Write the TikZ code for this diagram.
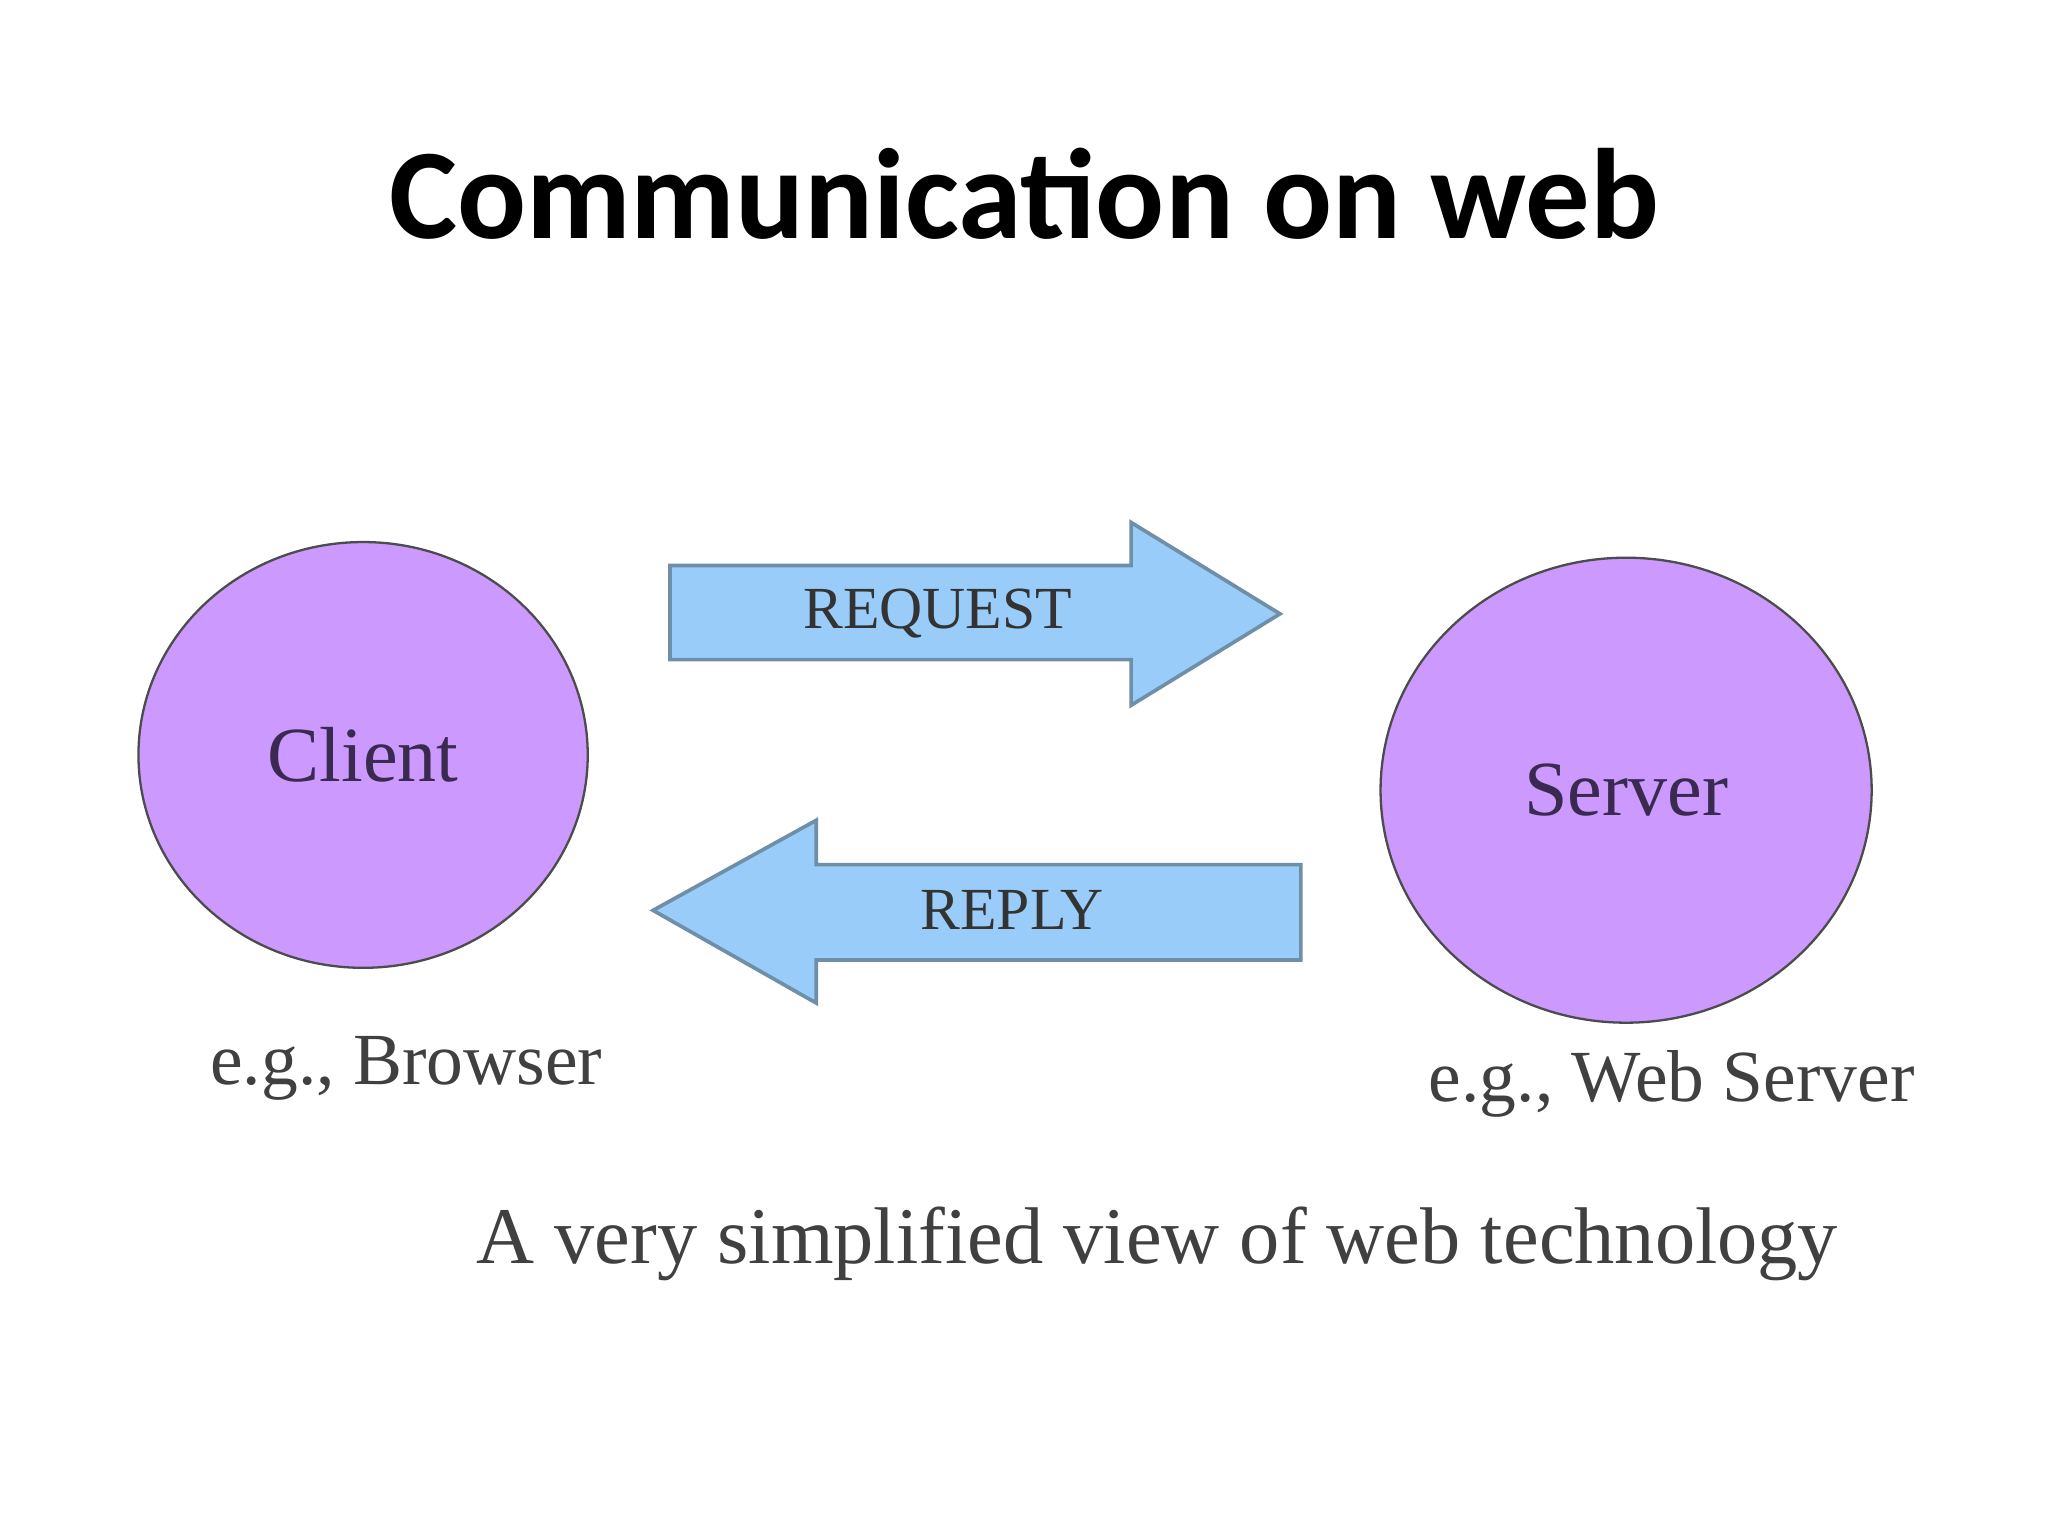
\documentclass[tikz,border=0pt]{standalone}
\usepackage{fontspec}
\setmainfont{Liberation Serif}
\newfontfamily\titlefont{Carlito}
\begin{document}
\begin{tikzpicture}[x=0.01cm,y=-0.01cm,
  blob/.style={draw=black!70,fill=circlefill,line width=0.5pt},
  arr/.style={draw=arrowline,fill=arrowfill,line width=0.8pt},
  lbl/.style={font=\fontsize{13}{15}\selectfont,text=black!80}]
\definecolor{circlefill}{HTML}{CC99FF}
\definecolor{arrowfill}{HTML}{99CCF8}
\definecolor{arrowline}{HTML}{6F8FA8}
\definecolor{textpurple}{HTML}{3A2A50}
\useasboundingbox[fill=white] (0,0) rectangle (1568,1176);
\node (title) at (784,148) {\titlefont\bfseries\fontsize{28}{32}\selectfont Communication on web};
\draw[blob] (278,578) ellipse [x radius=172, y radius=163];
\node (client) at (278,578) {\fontsize{17}{20}\selectfont\color{textpurple}Client};
\draw[blob] (1245,605) ellipse [x radius=188, y radius=178];
\node (server) at (1245,605) {\fontsize{17}{20}\selectfont\color{textpurple}Server};
\draw[arr] (513,433) -- (866,433) -- (866,400) -- (980,470) -- (866,540) -- (866,505) -- (513,505) -- cycle;
\node[lbl] (req) at (718,470) {REQUEST};
\draw[arr] (996,662) -- (625,662) -- (625,628) -- (500,697) -- (625,768) -- (625,735) -- (996,735) -- cycle;
\node[lbl] (rep) at (775,697) {REPLY};
\node (cb) at (311,818) {\fontsize{16}{19}\selectfont\color{black!75}e.g., Browser};
\node (sb) at (1280,830) {\fontsize{16}{19}\selectfont\color{black!75}e.g., Web Server};
\node (cap) at (886,952) {\fontsize{17.5}{21}\selectfont\color{black!75}A very simplified view of web technology};
\end{tikzpicture}
\end{document}
